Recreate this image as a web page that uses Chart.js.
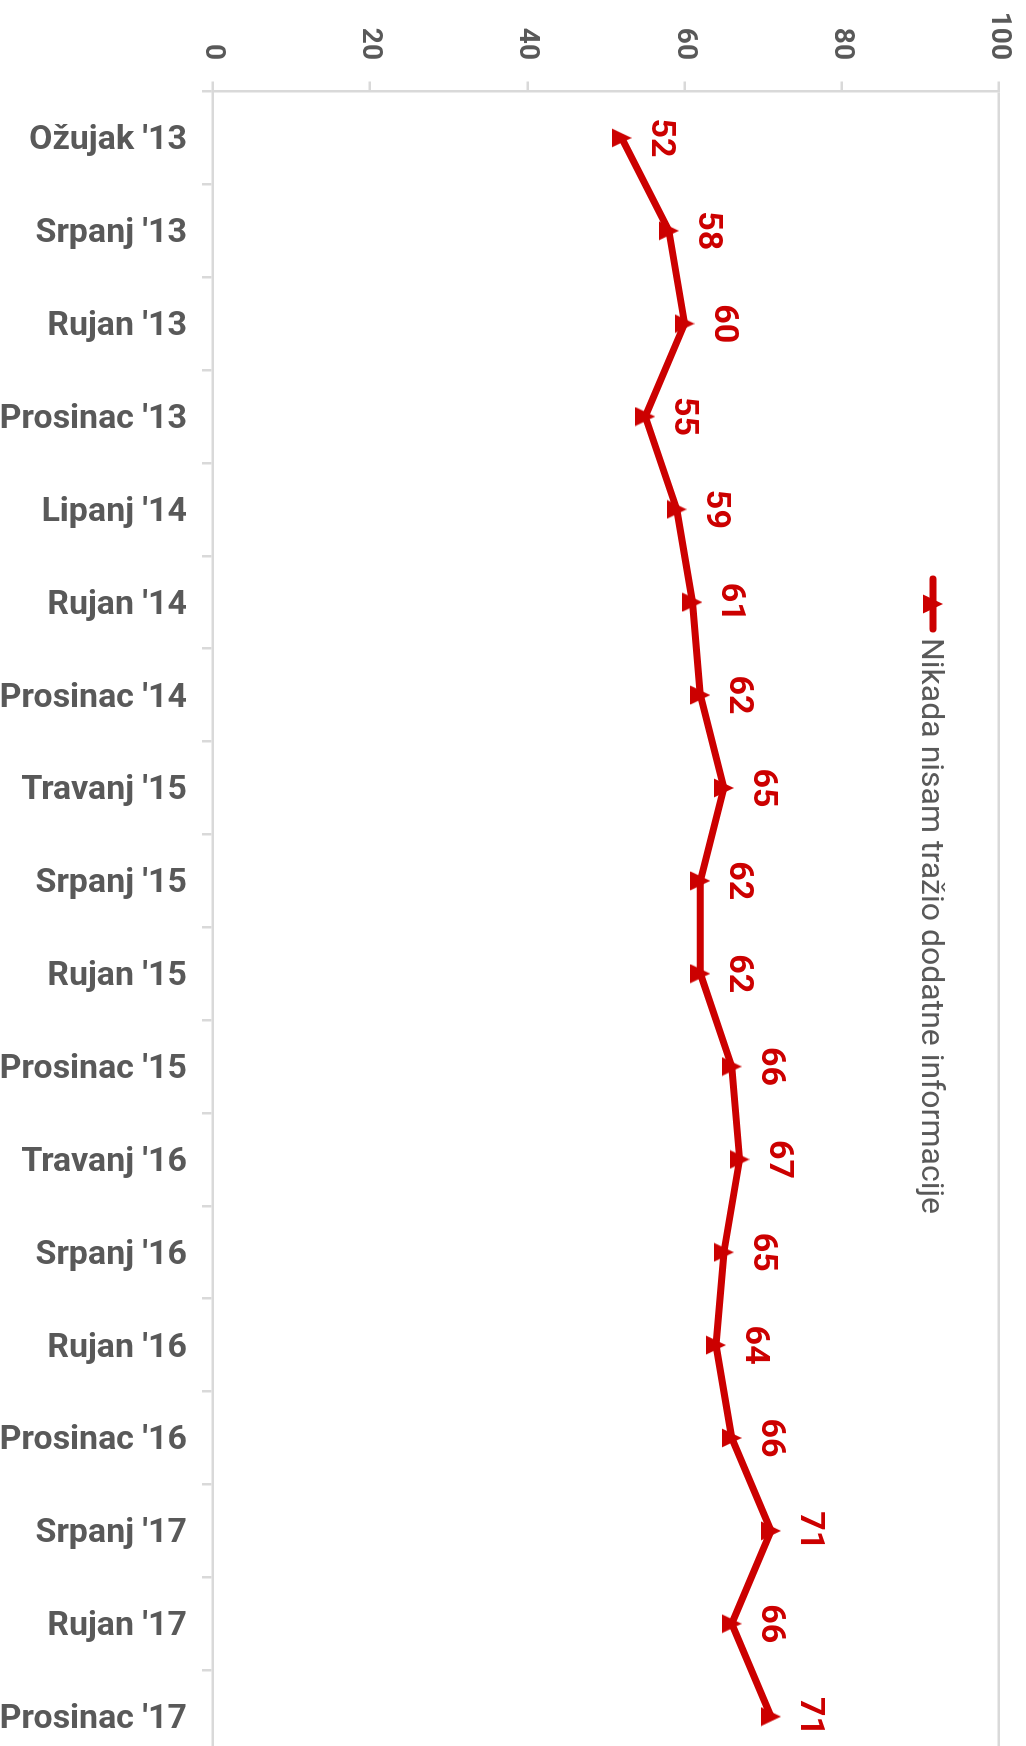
<!DOCTYPE html>
<html>
<head>
<meta charset="utf-8">
<script src="https://cdn.jsdelivr.net/npm/chart.js@4.4.1/dist/chart.umd.min.js"></script>
<style>
  html, body { margin: 0; padding: 0; background: #fff; overflow: hidden; }
  /* the chart is drawn landscape and turned a quarter clockwise */
  #wrap {
    position: absolute; left: 0; top: 0;
    width: 1780px; height: 1026px;
    transform-origin: 0 0;
    transform: translateX(1026px) rotate(90deg);
  }
</style>
</head>
<body>
<div id="wrap"><canvas id="chart" width="1780" height="1026"></canvas></div>
<script>
const categories = ["Ožujak '13", "Srpanj '13", "Rujan '13", "Prosinac '13", "Lipanj '14", "Rujan '14",
  "Prosinac '14", "Travanj '15", "Srpanj '15", "Rujan '15", "Prosinac '15", "Travanj '16",
  "Srpanj '16", "Rujan '16", "Prosinac '16", "Srpanj '17", "Rujan '17", "Prosinac '17"];
const values = [52, 58, 60, 55, 59, 61, 62, 65, 62, 62, 66, 67, 65, 64, 66, 71, 66, 71];
const seriesName = 'Nikada nisam tražio dodatne informacije';
const valueTicks = [0, 20, 40, 60, 80, 100];

const RED = '#CC0000';
const GREY = '#595959';
const AXIS = '#d9d9d9';
const FONT = "Roboto, 'Open Sans', sans-serif";

Chart.defaults.font.family = FONT;

// triangle marker, centred on its box
function makeTriangle() {
  const c = document.createElement('canvas');
  c.width = 20; c.height = 20;
  const g = c.getContext('2d');
  g.fillStyle = RED;
  g.beginPath();
  g.moveTo(10, 0);
  g.lineTo(19.5, 20);
  g.lineTo(0.5, 20);
  g.closePath();
  g.fill();
  return c;
}
const tri = makeTriangle();

const valueLabels = {
  id: 'valueLabels',
  afterDatasetsDraw(chart) {
    const ctx = chart.ctx;
    const meta = chart.getDatasetMeta(0);
    ctx.save();
    ctx.font = 'bold 34px ' + FONT;
    ctx.fillStyle = RED;
    ctx.textAlign = 'center';
    ctx.textBaseline = 'alphabetic';
    meta.data.forEach((pt, i) => {
      ctx.fillText(String(values[i]), pt.x, pt.y - 30);
    });
    ctx.restore();
  }
};

const insideLegend = {
  id: 'insideLegend',
  afterDraw(chart) {
    const ctx = chart.ctx;
    const ds = chart.data.datasets[0];
    const y = 93;
    ctx.save();
    ctx.strokeStyle = ds.borderColor;
    ctx.lineWidth = 7;
    ctx.lineCap = 'round';
    ctx.beginPath();
    ctx.moveTo(579, y);
    ctx.lineTo(629, y);
    ctx.stroke();
    ctx.drawImage(tri, 604 - 10, y - 10);
    ctx.font = '32px ' + FONT;
    ctx.fillStyle = GREY;
    ctx.textBaseline = 'alphabetic';
    ctx.textAlign = 'left';
    ctx.fillText(ds.label, 638, 104);
    ctx.restore();
  }
};

new Chart(document.getElementById('chart'), {
  type: 'line',
  data: {
    labels: categories,
    datasets: [{
      label: seriesName,
      data: values,
      borderColor: RED,
      backgroundColor: RED,
      borderWidth: 7,
      borderJoinStyle: 'round',
      borderCapStyle: 'round',
      tension: 0,
      fill: false,
      pointStyle: tri,
      pointRadius: 10,
      pointHoverRadius: 10
    }]
  },
  options: {
    responsive: false,
    animation: false,
    events: [],
    layout: { padding: { top: 27, right: 14.5, left: 0, bottom: 0 } },
    plugins: {
      legend: { display: false },
      tooltip: { enabled: false }
    },
    scales: {
      x: {
        type: 'category',
        position: 'bottom',
        offset: true,
        grid: { offset: true, drawOnChartArea: false, tickLength: 11, color: AXIS, lineWidth: 2.5 },
        border: { color: AXIS, width: 2.5 },
        ticks: {
          autoSkip: false, minRotation: 90, maxRotation: 90, padding: 15, labelOffset: 3,
          color: GREY, font: { size: 34, weight: 'bold' }
        },
        afterFit(s) {
          s.height = 213;
          s.paddingLeft = 0; s.paddingRight = 0;
        }
      },
      y: {
        min: 0, max: 100,
        position: 'left',
        afterBuildTicks(s) { s.ticks = valueTicks.map(v => ({ value: v })); },
        grid: {
          color: c => (c.tick && c.tick.value === 100 ? AXIS : 'rgba(0,0,0,0)'),
          tickColor: AXIS, tickLength: 10, lineWidth: 2.5
        },
        border: { color: AXIS, width: 2.5 },
        ticks: { padding: 21.5, color: GREY, font: { size: 28, weight: 'bold' } },
        afterFit(s) {
          s.width = 91.5;
          s.paddingTop = 0; s.paddingBottom = 0;
        }
      }
    }
  },
  plugins: [valueLabels, insideLegend]
});
</script>
</body>
</html>
